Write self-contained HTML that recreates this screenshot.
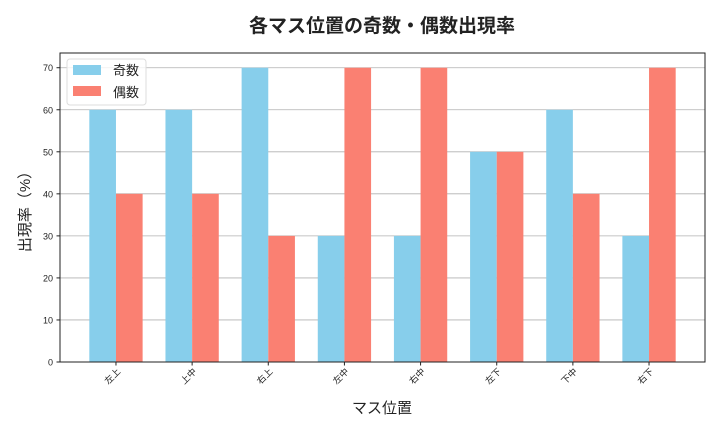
<!DOCTYPE html>
<html><head><meta charset="utf-8">
<style>
body{margin:0;background:#fff;}
svg text{font-family:"Liberation Sans","Noto Sans CJK JP",sans-serif;}
</style></head>
<body>
<svg id="chart" width="720" height="432" xmlns="http://www.w3.org/2000/svg">
<rect width="720" height="432" fill="#fff"/>
<text x="382" y="32" text-anchor="middle" font-size="19" font-weight="bold" fill="#222">各マス位置の奇数・偶数出現率</text>
<g id="grid"></g>
<g id="bars"></g>
<rect x="60" y="53" width="645" height="309" fill="none" stroke="#222" stroke-width="1"/>
<g id="ticks"></g>
<text x="382" y="413" text-anchor="middle" font-size="15" fill="#222">マス位置</text>
<text transform="translate(30,208) rotate(-90)" text-anchor="middle" font-size="15" fill="#222">出現率（%）</text>
<g>
<rect x="67" y="59" width="79" height="46" rx="3" fill="#fff" fill-opacity="0.8" stroke="#ddd"/>
<rect x="73" y="65" width="28" height="10" fill="#87CEEB"/>
<text x="113" y="75" font-size="13" fill="#222">奇数</text>
<rect x="73" y="86" width="28" height="10" fill="#FA8072"/>
<text x="113" y="97" font-size="13" fill="#222">偶数</text>
</g>
</svg>
<script>
const categories=["左上","上中","右上","左中","右中","左下","下中","右下"];
const oddValues=[60,60,70,30,30,50,60,30];
const evenValues=[40,40,30,70,70,50,40,70];
const yTicks=[0,10,20,30,40,50,60,70];
const NS="http://www.w3.org/2000/svg";
const L=60,R=705,T=53,B=362;
const xMin=-0.735,xMax=7.735,yMax=73.5,barW=0.35;
const xs=v=>L+(v-xMin)/(xMax-xMin)*(R-L);
const ys=v=>B-v/yMax*(B-T);
function mk(tag,attrs,parent){const e=document.createElementNS(NS,tag);for(const k in attrs)e.setAttribute(k,attrs[k]);parent.appendChild(e);return e;}
const grid=document.getElementById('grid'),bars=document.getElementById('bars'),ticks=document.getElementById('ticks');
yTicks.forEach(v=>{
  const g=mk('line',{x1:L,x2:R,y1:ys(v),y2:ys(v),stroke:'#b0b0b0','stroke-width':0.8},grid);
  
  
  mk('line',{x1:L-3.5,x2:L,y1:ys(v),y2:ys(v),stroke:'#222'},ticks);
  const t=mk('text',{x:L-7,y:ys(v)+3.5,'text-anchor':'end','font-size':9,fill:'#222'},ticks);
  t.textContent=v;
  
  
});
categories.forEach((c,i)=>{
  const b1=mk('rect',{x:xs(i-barW),y:ys(oddValues[i]),width:xs(i)-xs(i-barW),height:ys(0)-ys(oddValues[i]),fill:'#87CEEB'},bars);
  
  
  const b2=mk('rect',{x:xs(i),y:ys(evenValues[i]),width:xs(i+barW)-xs(i),height:ys(0)-ys(evenValues[i]),fill:'#FA8072'},bars);
  
  
  const x=xs(i);
  mk('line',{x1:x,x2:x,y1:B,y2:B+3.5,stroke:'#222'},ticks);
  const t=mk('text',{x:0,y:0,'text-anchor':'end','font-size':9,fill:'#222',transform:`translate(${x+5},${B+10}) rotate(-45)`},ticks);
  t.textContent=c;
  
  
});
</script>
</body></html>
